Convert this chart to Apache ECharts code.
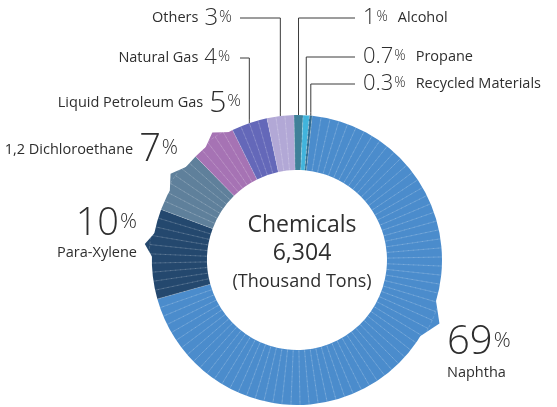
<!DOCTYPE html>
<html>
<head>
<meta charset="utf-8">
<script src="https://cdn.jsdelivr.net/npm/echarts@6/dist/echarts.min.js"></script>
<style>
  html, body { margin: 0; padding: 0; background: #ffffff; }
  #chart { width: 557px; height: 407px; }
</style>
</head>
<body>
<div id="chart"></div>
<script>
// Feedstock mix for chemicals production (share of total, %)
const sources = ['Naphtha', 'Para-Xylene', '1,2 Dichloroethane', 'Liquid Petroleum Gas',
                 'Natural Gas', 'Others', 'Alcohol', 'Propane', 'Recycled Materials'];
const shares = [69, 10, 7, 5, 4, 3, 1, 0.7, 0.3];
const centerLines = ['Chemicals', '6,304', '(Thousand Tons)'];

const sliceColors = ['#4b8ccc', '#24486e', '#5f809b', '#a673b4', '#6468b9',
                     '#b2a8d6', '#3f8099', '#41b4dc', '#2f6b90'];

const FONT = '"Open Sans", "Noto Sans", sans-serif';
const INK = '#2e2e2e';

// callout placement, figure size, leader end and pointer tab (fraction along the slice, half width)
const callouts = {
  'Naphtha':              { x: 447, y: 352, align: 'left',  big: 40, pct: 21, stacked: true, tab: 0.435, tabW: 2.6, tabH: 11 },
  'Para-Xylene':          { x: 137, y: 233, align: 'right', big: 38, pct: 21, stacked: true, tab: 0.6, tabW: 1.7, tabH: 8 },
  '1,2 Dichloroethane':   { x: 178, y: 150, align: 'right', big: 38, pct: 20, tab: 0.55, tabW: 2, tabH: 8 },
  'Liquid Petroleum Gas': { x: 241, y: 103, align: 'right', big: 30, pct: 17, tab: 0.6, tabW: 2, tabH: 8 },
  'Natural Gas':          { x: 230, y: 58,  align: 'right', big: 22, pct: 15, lineEnd: 240 },
  'Others':               { x: 232, y: 18,  align: 'right', big: 24, pct: 16, lineEnd: 240 },
  'Alcohol':              { x: 363, y: 18,  align: 'left',  big: 22, pct: 14, lineEnd: 355 },
  'Propane':              { x: 363, y: 57,  align: 'left',  big: 22, pct: 14, lineEnd: 355 },
  'Recycled Materials':   { x: 363, y: 84,  align: 'left',  big: 22, pct: 14, lineEnd: 355 }
};

function labelFor(name, value) {
  const c = callouts[name];
  const rich = {
    nm: { fontFamily: FONT, fontSize: 14.5, color: INK, lineHeight: 18 },
    nmR: { fontFamily: FONT, fontSize: 14.5, color: INK, lineHeight: 18, padding: [0, 0, 0, 10] },
    big: { fontFamily: FONT, fontSize: c.big, fontWeight: 300, color: INK, lineHeight: c.big + 2 },
    bigL: { fontFamily: FONT, fontSize: c.big, fontWeight: 300, color: INK, lineHeight: c.big + 2,
            padding: [0, 0, 0, 6] },
    pc: { fontFamily: FONT, fontSize: c.pct, fontWeight: 300, color: INK,
          verticalAlign: 'middle', padding: [0, 0, Math.round(c.big * 0.1), 1] }
  };
  let text;
  if (c.stacked) {
    text = `{big|${value}}{pc|%}\n{nm|${name}}`;
  } else if (c.align === 'right') {
    text = `{nm|${name}}{bigL|${value}}{pc|%}`;
  } else {
    text = `{big|${value}}{pc|%}{nmR|${name}}`;
  }
  return { show: true, formatter: text, rich: rich, align: c.align };
}

const ringData = sources.map((name, i) => ({
  name: name,
  value: shares[i],
  itemStyle: { color: sliceColors[i] },
  label: labelFor(name, shares[i]),
  labelLine: { show: callouts[name].lineEnd !== undefined }
}));

// thin hairlines every 1% across the ring
const hairlineData = [];
shares.forEach(v => {
  const whole = Math.floor(v + 1e-9);
  for (let k = 0; k < whole; k++) hairlineData.push({ value: 1 });
  const rest = Math.round((v - whole) * 1000) / 1000;
  if (rest > 0) hairlineData.push({ value: rest });
});

// pointer tabs on the outer rim, positioned in share units along the ring
const tabData = [];
let runningShare = 0;
sources.forEach((name, i) => {
  const c = callouts[name];
  if (c.tab !== undefined) tabData.push([runningShare + c.tab * shares[i], i]);
  runningShare += shares[i];
});

const CENTER = [297, 260];
const START = 84;
const OUTER = 145;

const chart = echarts.init(document.getElementById('chart'), null, { renderer: 'canvas' });
chart.setOption({
  backgroundColor: '#ffffff',
  animation: false,
  polar: { center: CENTER, radius: [0, OUTER] },
  angleAxis: { type: 'value', min: 0, max: 100, startAngle: START, clockwise: true, show: false },
  radiusAxis: { type: 'value', min: 0, max: OUTER, show: false },
  series: [
    {
      type: 'custom',
      coordinateSystem: 'polar',
      silent: true,
      data: tabData,
      renderItem: function (params, api) {
        const at = api.value(0);
        const idx = api.value(1);
        const c = callouts[sources[idx]];
        const pts = [
          api.coord([OUTER - 2, at - c.tabW]),
          api.coord([OUTER + c.tabH, at]),
          api.coord([OUTER - 2, at + c.tabW])
        ];
        return {
          type: 'polygon',
          shape: { points: pts },
          style: { fill: sliceColors[idx] }
        };
      }
    },
    {
      type: 'pie',
      center: CENTER,
      radius: [90, OUTER],
      startAngle: START,
      clockwise: true,
      avoidLabelOverlap: false,
      silent: true,
      data: ringData,
      label: { position: 'outside' },
      labelLine: { show: true, length: 10, length2: 10,
                   lineStyle: { color: '#3a3a3a', width: 1 } },
      labelLayout: function (params) {
        const c = callouts[sources[params.dataIndex]];
        const out = { x: c.x, y: c.y, align: c.align, verticalAlign: 'middle' };
        if (c.lineEnd !== undefined && params.labelLinePoints) {
          const p0 = params.labelLinePoints[0];
          out.labelLinePoints = [[p0[0], p0[1]], [p0[0], c.y], [c.lineEnd, c.y]];
        }
        return out;
      }
    },
    {
      type: 'pie',
      center: CENTER,
      radius: [87, OUTER + 3],
      startAngle: START,
      clockwise: true,
      silent: true,
      label: { show: false },
      labelLine: { show: false },
      itemStyle: { color: 'rgba(0,0,0,0)', borderColor: 'rgba(255,255,255,0.27)',
                   borderWidth: 0.6, borderType: [3, 2] },
      data: hairlineData
    }
  ],
  graphic: centerLines.map((t, i) => ({
    type: 'text',
    x: 302,
    y: [225, 253, 282][i],
    silent: true,
    style: {
      text: t,
      fill: INK,
      font: (i === 2 ? '18px ' : '23px ') + FONT,
      align: 'center',
      verticalAlign: 'middle'
    }
  }))
});
</script>
</body>
</html>
